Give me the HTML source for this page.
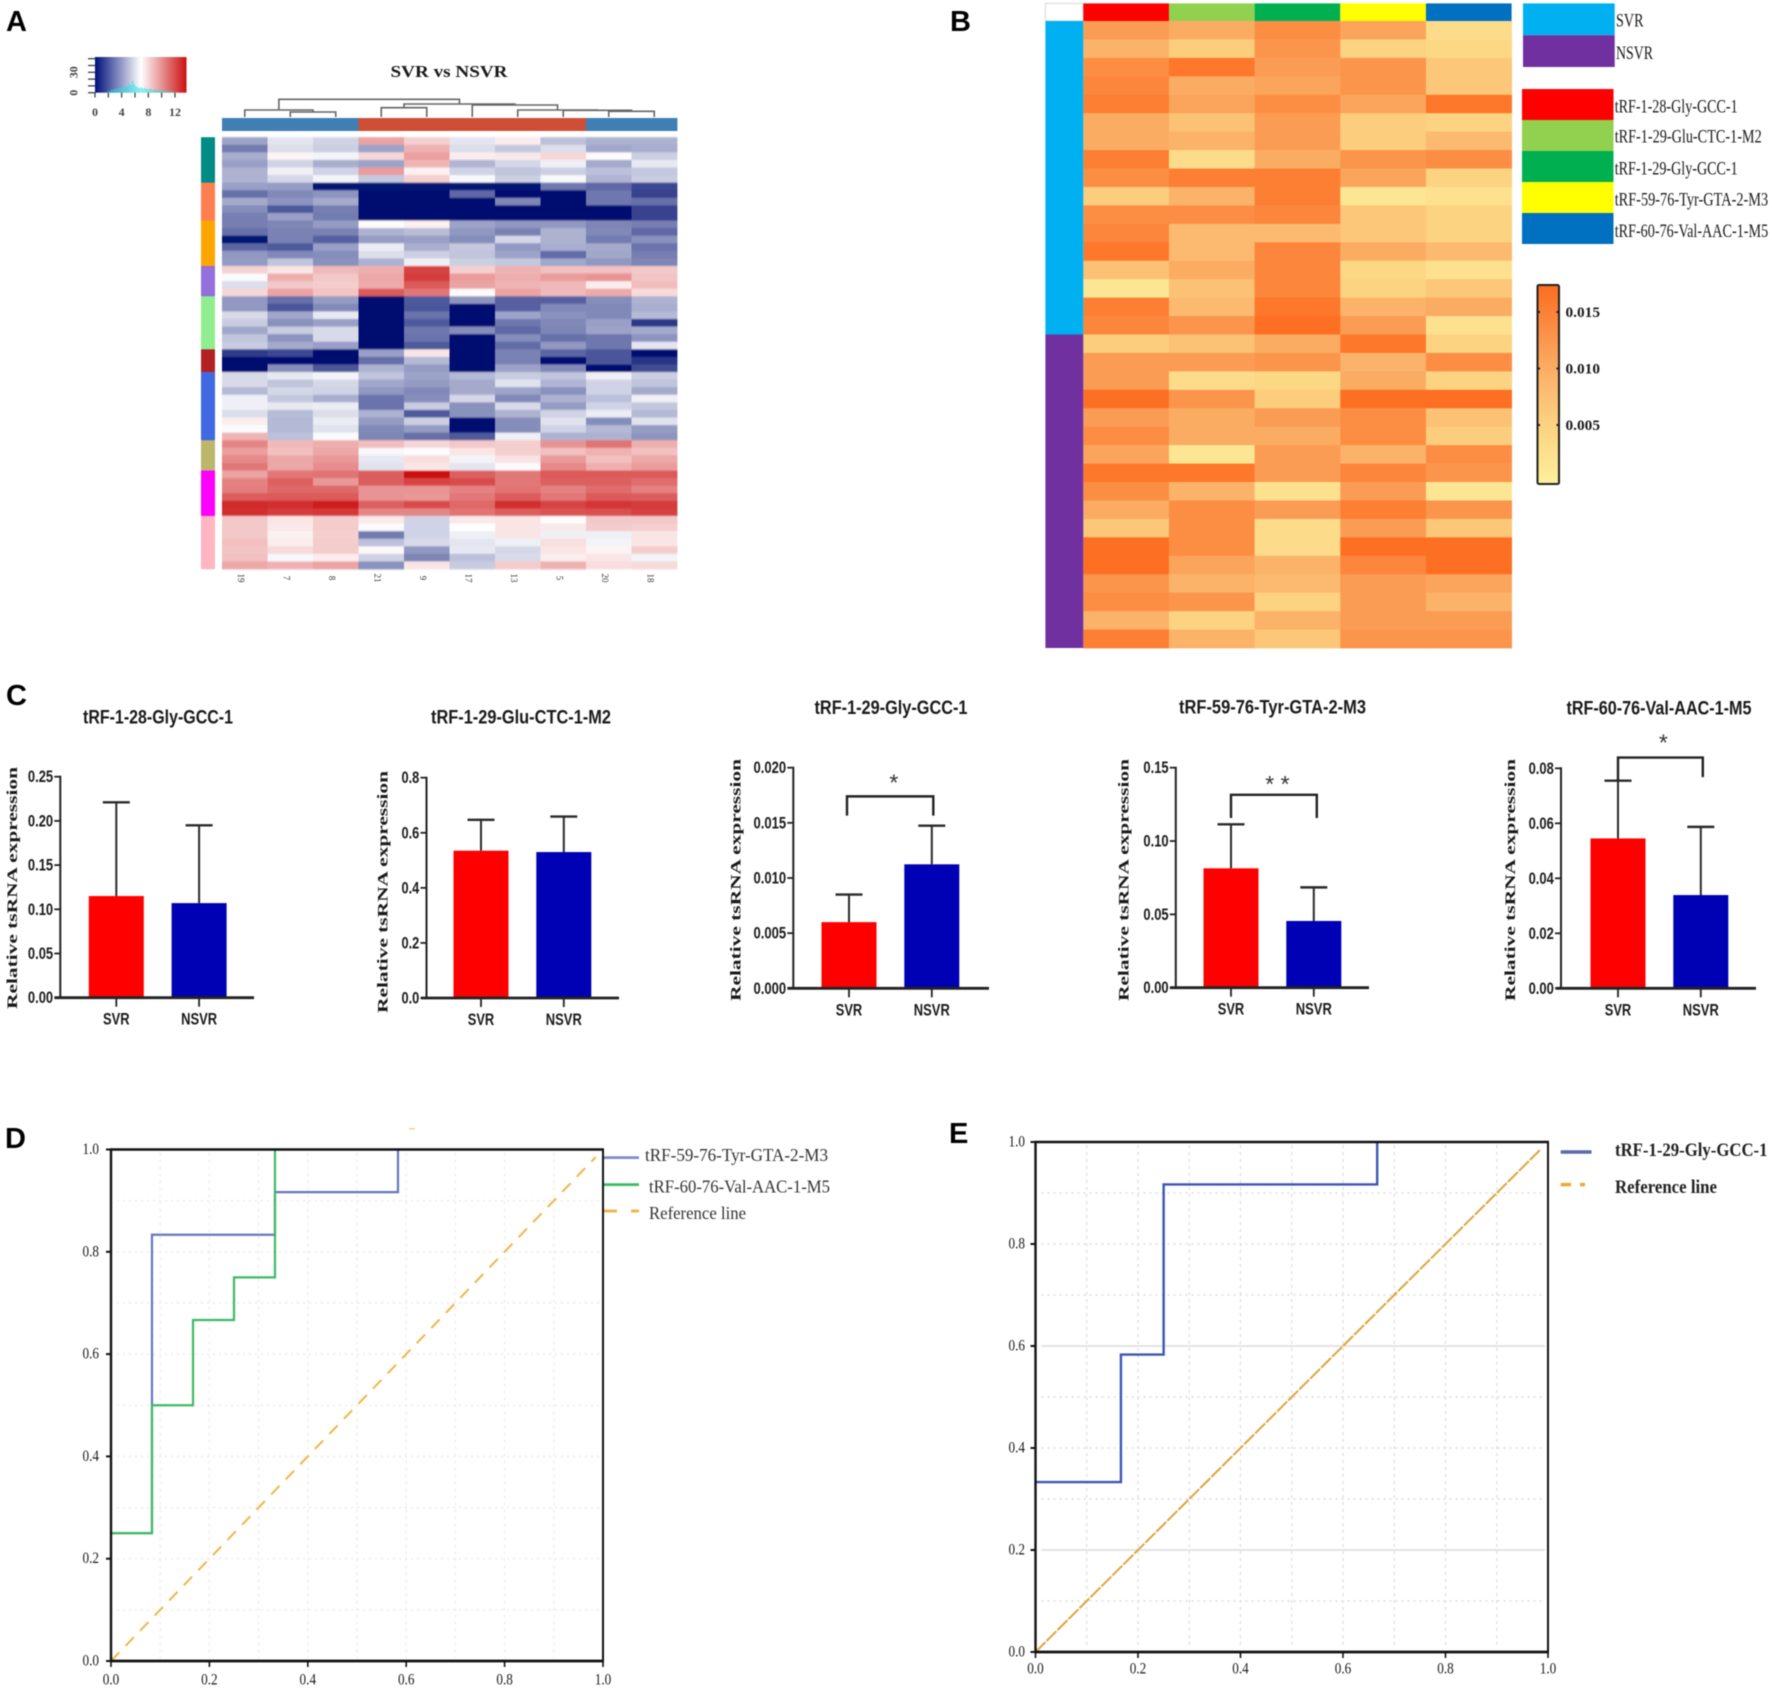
<!DOCTYPE html>
<html lang="en">
<head>
<meta charset="utf-8">
<title>tsRNA expression figure</title>
<style>
html,body{margin:0;padding:0;background:#fff;}
#figure{position:absolute;left:0;top:0;display:block;filter:blur(0.45px);}
text{fill:#1a1a1a;}
.sans{font-family:"Liberation Sans",sans-serif;}
.serif{font-family:"Liberation Serif",serif;}
</style>
</head>
<body>
<svg id="figure" xmlns="http://www.w3.org/2000/svg" width="1772" height="1690" viewBox="0 0 1772 1690">
  <defs>
    <linearGradient id="keyGradientA" x1="0" x2="1" y1="0" y2="0">
      <stop offset="0" stop-color="#00107a"/><stop offset="0.5" stop-color="#ffffff"/><stop offset="1" stop-color="#cc1010"/>
    </linearGradient>
    <linearGradient id="keyGradientB" x1="0" x2="0" y1="1" y2="0">
      <stop offset="0" stop-color="#fdf09c"/><stop offset="0.3" stop-color="#fcd280"/><stop offset="0.5" stop-color="#fbb96f"/><stop offset="0.7" stop-color="#fb9a52"/><stop offset="1" stop-color="#fd6d1f"/>
    </linearGradient>
    <filter id="softCells" x="-2%" y="-2%" width="104%" height="104%">
      <feGaussianBlur stdDeviation="0.3 0.9"/>
    </filter>
  </defs>
  <rect width="1772" height="1690" fill="#fff"/>

  <text class="sans" x="6" y="31" font-size="29" font-weight="700" style="fill:#000">A</text>
  <text class="sans" x="950" y="31" font-size="29" font-weight="700" style="fill:#000">B</text>
  <text class="sans" x="6" y="705" font-size="29" font-weight="700" style="fill:#000">C</text>
  <text class="sans" x="5" y="1148" font-size="29" font-weight="700" style="fill:#000">D</text>
  <text class="sans" x="949" y="1143" font-size="29" font-weight="700" style="fill:#000">E</text>

  <g id="panelA">
    <text class="serif" x="449" y="77" font-size="17" font-weight="700" text-anchor="middle" textLength="117" lengthAdjust="spacingAndGlyphs">SVR vs NSVR</text>
    <rect x="95" y="57" width="91.5" height="35.7" fill="url(#keyGradientA)"/>
  </g>
  <g id="panelB">
    <rect x="1045.4" y="3.4" width="37.9" height="17.6" fill="#fff" stroke="#d8d8d8" stroke-width="1"/>
    <rect x="1537.5" y="285" width="21.5" height="199" rx="1.5" fill="url(#keyGradientB)" stroke="#222" stroke-width="2"/>
  </g>
  <g id="panelC"></g>
  <g id="panelD">
    <rect x="409" y="1128" width="6" height="1.5" fill="#f5d27a"/>
  </g>
  <g id="panelE"></g>
</svg>

<script>
/* ---------- Panel A data ---------- */
const heatmapAColumns = ['19','7','8','21','9','17','13','5','20','18'];
const heatmapAColumnGroups = [0,0,0,1,1,1,1,1,0,0];
const heatmapARowGroupSizes = [6,5,6,4,7,3,9,4,6,7];
const heatmapAValues = [
[4.0,5.8,5.3,9.0,7.8,5.8,7.0,4.8,4.4,4.4],
[2.9,5.6,5.2,4.0,8.6,5.6,5.0,5.6,4.1,4.3],
[4.3,6.8,6.2,7.6,9.1,7.0,7.1,7.6,6.6,5.2],
[3.9,5.3,4.3,4.0,8.5,4.5,5.4,6.1,4.2,5.9],
[4.4,6.1,5.3,9.2,6.9,5.3,4.9,5.2,4.8,5.0],
[4.4,5.4,6.2,5.0,7.8,6.3,5.2,6.3,4.5,5.1],
[3.9,3.8,0.1,0.1,0.1,0.1,0.1,2.8,2.4,1.5],
[2.6,3.3,3.6,0,0,2.4,0,0,2.8,1.4],
[4.2,3.6,4.2,0,0,0,3.2,0,2.8,2.6],
[3.4,2.0,3.0,0,0,0,0,0,0,1.4],
[3.0,3.9,2.9,0,0,0,0,0,0,1.4],
[3.0,3.2,3.8,6.6,6.9,4.0,3.7,3.7,3.2,3.0],
[2.6,3.1,3.1,4.4,4.7,3.7,3.1,4.4,3.3,2.4],
[0.1,3.1,2.2,3.8,3.9,3.4,5.4,4.4,2.9,3.5],
[2.3,2.0,3.9,6.0,4.3,5.0,3.7,4.3,4.2,2.7],
[3.7,3.3,3.4,5.6,5.2,4.9,4.0,2.5,4.1,3.0],
[3.8,4.9,3.5,4.4,6.1,5.2,5.0,4.1,3.7,3.2],
[7.7,7.2,8.4,8.7,11.6,7.8,8.6,8.2,8.2,8.0],
[6.4,8.7,8.0,8.9,11.8,9.2,8.7,9.2,9.4,8.1],
[5.6,8.0,7.9,8.8,11.0,9.0,8.5,8.4,7.0,8.3],
[7.6,9.0,8.1,11.0,10.2,6.6,9.0,8.4,8.8,7.5],
[3.7,2.6,3.8,0,2.0,3.6,2.2,2.2,3.4,4.4],
[3.7,1.9,3.3,0,1.9,0,2.2,3.3,3.3,4.3],
[5.5,4.1,5.9,0,2.7,0,4.0,3.5,3.3,4.6],
[5.1,3.5,3.9,0,2.0,0,2.8,3.3,3.9,1.1],
[4.1,5.1,5.5,0,2.8,3.4,2.4,3.2,4.0,4.2],
[4.9,3.6,5.5,0,2.7,0,3.4,2.6,2.8,3.6],
[5.1,4.2,3.9,0,2.0,0,2.5,3.7,2.8,5.8],
[1.2,1.5,0,3.9,7.2,0,3.1,2.3,1.9,0],
[0,0,0,2.6,4.6,0,3.1,0,1.9,1.0],
[0,3.4,1.9,4.4,3.8,0,4.0,3.3,0,1.6],
[5.5,5.9,6.2,4.9,4.0,4.6,5.1,4.9,6.1,5.2],
[5.5,4.9,5.4,4.1,3.8,4.2,5.7,4.5,5.3,4.9],
[4.6,5.4,5.3,3.7,3.3,4.2,4.0,3.5,5.3,4.2],
[6.1,5.0,4.3,2.7,3.4,5.4,3.3,4.4,4.8,6.1],
[6.1,5.9,6.0,2.7,5.1,3.5,5.5,3.8,5.3,5.0],
[5.6,4.7,5.6,4.4,2.0,3.5,4.4,5.3,6.0,4.6],
[7.0,4.6,6.0,3.8,5.2,0,3.4,5.7,3.4,5.7],
[6.4,4.6,5.7,3.3,3.8,0,3.4,5.3,4.6,3.8],
[8.5,4.8,6.4,3.2,2.6,2.0,6.1,4.4,4.4,3.6],
[9.8,8.4,8.7,8.3,7.6,8.0,7.8,9.4,10.3,8.7],
[9.1,8.2,8.9,6.3,6.4,7.2,7.8,8.2,8.6,8.2],
[9.7,8.9,9.3,5.9,7.4,6.2,7.3,9.2,8.2,8.9],
[10.2,8.9,9.6,5.7,7.2,5.8,6.4,9.7,8.7,9.2],
[9.0,10.2,10.3,10.9,13,10.8,10.2,11,11,11],
[9.9,10.8,9.3,10.9,11.6,11.4,10.2,10.8,10.8,10.5],
[10,10.6,10.6,9.4,9.4,9.9,10.3,9.9,10.5,9.9],
[10.9,11,11,9.4,9.3,10.2,10.9,10.2,11,10.9],
[12.3,12.2,12.6,10.8,11.4,10.6,12.2,11.6,12,11.8],
[12.2,11.8,11.9,9.8,9.8,10.3,10.9,11.2,11.3,11.7],
[8,7.2,7.9,7.1,5.3,7.1,7.2,6.6,8,8],
[8,7.1,7.9,6.4,5.3,6.5,7.2,7.1,7.9,7.8],
[8,6.9,7.8,2.9,5.3,6.1,7.2,6.1,6.1,7.2],
[8.2,7,7.9,4.8,5.5,5.8,6.1,7.4,6.2,7.2],
[8.1,7.5,7.9,6.7,3.7,5.9,5.4,7.2,6.8,7.9],
[8.2,6.3,7,5.3,3.2,4.8,5.5,7,7.2,6.2],
[8.9,8.6,9,3.5,7.2,5.1,7.9,8.6,7.4,7.5]
];
const dendrogramTree = {h:17.7,
  l:{h:7,l:0,r:{h:5,l:1,r:2}},
  r:{h:13,l:{h:9.3,l:3,r:4},r:{h:12,l:5,r:{h:7,l:6,r:{h:6.7,l:7,r:{h:5.7,l:8,r:9}}}}}};
const colorKeyTickValues = [0,2,4,6,8,10,12];
const colorKeyTickLabels = ['0','4','8','12'];
const colorKeyHistogram = [3,2,5,4,6,5,7,6,8,7,10,9,14,11,17,12,9,8,7,8,6,7,6,5,6,5,4,5,4,4,3,4,3,3,2,3,2,2,1,1];

/* ---------- Panel B data (cells in units of heatmapBUnit) ---------- */
const heatmapBUnit = 0.0017;
const heatmapBValues = [
[7,6,8,6.5,2],[5.5,3.5,7.5,3,2.5],[8,9.5,7,7.5,4],[8.5,6,6.5,7.5,4],[9,6.5,8,6.5,9.5],
[6,4.5,7,3.5,3],[6,5.5,7,3.5,5],[9,2,6,7.5,8],[8,9,9,6.5,3],[3.5,5.5,9,1,1.5],
[8,8,8.5,4,3],[8.5,5,5,4,3],[9.5,5,8.5,6,5],[4.5,6,8.5,2.5,1.5],[1,4.5,8.5,3,4],
[9,5,9.5,5.5,6],[8.5,7.5,10,7,1.5],
[3.5,4.5,6,9.5,3],[7,7,7.5,5.5,8],[7,2,2.5,6,3],[10,7.5,3.5,10,10],[7,6,7,8,4.5],
[8,6,6,8,3.5],[6.5,1,7,5.5,8],[9.5,9.5,7,8.5,7.5],[8,5.5,1.5,7,1],[6,8,7,9,7.5],
[4,8,2,7,4],[10,8,2,10,10],[10,6.5,5.5,8.5,10],[7.5,5.5,5,7,6.5],[8,7.5,3,7,5.5],
[5.5,3,5.5,7,7],[9,5.5,4,7.5,7.5]
];
const heatmapBRowGroups = [17,17];
const heatmapBGroupNames = ['SVR','NSVR'];
const heatmapBGenes = ['tRF-1-28-Gly-GCC-1','tRF-1-29-Glu-CTC-1-M2','tRF-1-29-Gly-GCC-1','tRF-59-76-Tyr-GTA-2-M3','tRF-60-76-Val-AAC-1-M5'];
const colorBarBTicks = [0.005,0.010,0.015];
const colorBarBTickLabels = ['0.005','0.010','0.015'];

/* ---------- Panel C data ---------- */
const barTitles = ['tRF-1-28-Gly-GCC-1','tRF-1-29-Glu-CTC-1-M2','tRF-1-29-Gly-GCC-1','tRF-59-76-Tyr-GTA-2-M3','tRF-60-76-Val-AAC-1-M5'];
const barCategories = ['SVR','NSVR'];
const svrMeans = [0.115,0.535,0.0060,0.0814,0.0545];
const svrErrorTops = [0.221,0.647,0.0085,0.1114,0.0755];
const nsvrMeans = [0.107,0.530,0.01124,0.0455,0.0339];
const nsvrErrorTops = [0.195,0.659,0.01474,0.0684,0.0587];
const barYMax = [0.25,0.8,0.020,0.15,0.08];
const barYTicks = [[0,0.05,0.10,0.15,0.20,0.25],[0,0.2,0.4,0.6,0.8],[0,0.005,0.010,0.015,0.020],[0,0.05,0.10,0.15],[0,0.02,0.04,0.06,0.08]];
const barYTickLabels = [['0.00','0.05','0.10','0.15','0.20','0.25'],['0.0','0.2','0.4','0.6','0.8'],['0.000','0.005','0.010','0.015','0.020'],['0.00','0.05','0.10','0.15'],['0.00','0.02','0.04','0.06','0.08']];
const bracketLevels = [null,null,0.0174,0.1315,0.0839];
const bracketLeftDrops = [null,null,0.01565,0.1157,0.0757];
const bracketRightDrops = [null,null,0.01565,0.1157,0.0768];
const bracketLabels = ['','','*','* *','*'];
const barYAxisTitle = 'Relative tsRNA expression';

/* ---------- Panels D / E data ---------- */
const rocDBlueFpr = [0,0.0833,0.0833,0.3333,0.3333,0.5833,0.5833];
const rocDBlueTpr = [0.25,0.25,0.8333,0.8333,0.9167,0.9167,1];
const rocDGreenFpr = [0,0.0833,0.0833,0.1667,0.1667,0.25,0.25,0.3333,0.3333];
const rocDGreenTpr = [0.25,0.25,0.5,0.5,0.6667,0.6667,0.75,0.75,1];
const rocEBlueFpr = [0,0.1667,0.1667,0.25,0.25,0.6667,0.6667];
const rocEBlueTpr = [0.3333,0.3333,0.5833,0.5833,0.9167,0.9167,1];
const referenceLine = [0,0.985];
const rocTicks = [0,0.2,0.4,0.6,0.8,1];
const rocTickLabels = ['0.0','0.2','0.4','0.6','0.8','1.0'];
const rocGridValues = [0.1,0.2,0.3,0.4,0.5,0.6,0.7,0.8,0.9];
const rocDLegend = ['tRF-59-76-Tyr-GTA-2-M3','tRF-60-76-Val-AAC-1-M5','Reference line'];
const rocELegend = ['tRF-1-29-Gly-GCC-1','Reference line'];

/* ---------- helpers ---------- */
const NS = 'http://www.w3.org/2000/svg';
function node(tag, parent, attrs) {
  const el = document.createElementNS(NS, tag);
  for (const k in attrs) el.setAttribute(k, attrs[k]);
  parent.appendChild(el);
  return el;
}
function rect(parent, x, y, w, h, fill) {
  return node('rect', parent, {x:x, y:y, width:w, height:h, fill:fill});
}
function seg(parent, x1, y1, x2, y2, stroke, w, dash) {
  const a = {x1:x1, y1:y1, x2:x2, y2:y2, stroke:stroke, 'stroke-width':w};
  if (dash) a['stroke-dasharray'] = dash;
  return node('line', parent, a);
}
function label(parent, str, x, y, o) {
  const a = {x:x, y:y, 'font-size':o.size, 'font-family':o.family || '"Liberation Serif", serif', 'dominant-baseline':'central', 'text-anchor':o.anchor || 'start'};
  if (o.weight) a['font-weight'] = o.weight;
  if (o.width) { a.textLength = o.width; a.lengthAdjust = 'spacingAndGlyphs'; }
  if (o.rotate !== undefined) a.transform = 'rotate(' + o.rotate + ' ' + x + ' ' + y + ')';
  const el = node('text', parent, a);
  if (o.fill) el.style.fill = o.fill;
  el.textContent = str;
  return el;
}
function mix(a, b, t) {
  return 'rgb(' + a.map((c, i) => Math.round(c + (b[i] - c) * t)).join(',') + ')';
}
const SANS = '"Liberation Sans", sans-serif';

/* ---------- Panel A ---------- */
(function () {
  const g = document.getElementById('panelA');
  const left = 222, right = 677, top = 137.2, bottom = 569;
  const colW = (right - left) / heatmapAColumns.length;
  const rowH = (bottom - top) / heatmapAValues.length;
  const colX = i => left + i * colW;
  const rowY = i => top + i * rowH;
  const NAVY = [0,16,112], WHITE = [255,255,255], RED = [204,16,16];
  const cellColor = v => v <= 6.5 ? mix(NAVY, WHITE, v / 6.5) : mix(WHITE, RED, Math.min(1, (v - 6.5) / 6.5));

  const cells = node('g', g, {filter:'url(#softCells)'});
  
  
  heatmapAValues.forEach((row, r) => row.forEach((v, c) => {
    const cell = rect(cells, colX(c), rowY(r), colW + 0.4, rowH + 0.4, cellColor(v));
    
    
  }));

  const rowGroupColors = ['#008b85','#ff7f50','#ffa500','#9370db','#90ee90','#b22222','#4169e1','#bdb76b','#ff00ff','#ffb6c1'];
  let start = 0;
  heatmapARowGroupSizes.forEach((n, i) => {
    const bar = rect(g, 201, rowY(start), 14, n * rowH + 0.3, rowGroupColors[i]);
    
    
    start += n;
  });

  const colGroupColors = ['#3f7fb3','#cd4f35'];
  heatmapAColumnGroups.forEach((grp, c) => {
    const bar = rect(g, colX(c), 118, colW + 0.4, 13, colGroupColors[grp]);
    
    
  });

  heatmapAColumns.forEach((name, c) => {
    const t = label(g, name, colX(c) + colW / 2 - 4, 578, {size:9, anchor:'middle', rotate:90, fill:'#333'});
    
    
  });

  /* dendrogram */
  const dendroY = h => 117 - h;
  const leafX = i => colX(i) + colW / 2;
  function drawTree(t) {
    if (typeof t === 'number') return {x: leafX(t), y: 117};
    const a = drawTree(t.l), b = drawTree(t.r), y = dendroY(t.h);
    const p = node('path', g, {d:'M' + a.x + ' ' + a.y + 'V' + y + 'H' + b.x + 'V' + b.y, fill:'none', stroke:'#666', 'stroke-width':1.6});
    
    
    return {x: (a.x + b.x) / 2, y: y};
  }
  drawTree(dendrogramTree);

  /* colour key */
  const keyX = v => 95 + v * (80 / 12);
  const keyY = v => 92.7 - v * 0.68;
  colorKeyTickValues.forEach(v => {
    const t = seg(g, keyX(v), 92.7, keyX(v), 97.5, '#333', 1.2);
    
    
  });
  colorKeyTickLabels.forEach(s => {
    const t = label(g, s, keyX(+s), 112, {size:12, anchor:'middle', weight:700, fill:'#444'});
    
    
  });
  [0,10,20,30,40,50].forEach(v => {
    const t = seg(g, 88, keyY(v), 95, keyY(v), '#333', 1.2);
    
    
  });
  ['0','30'].forEach(s => {
    const t = label(g, s, 73.5, keyY(+s), {size:12, anchor:'middle', rotate:-90, weight:700, fill:'#444'});
    
    
  });
  const binStart = 2, binStep = 0.26;
  colorKeyHistogram.forEach((v, i) => {
    const b = seg(g, keyX(binStart + i * binStep), 92.7, keyX(binStart + i * binStep), keyY(v), '#19e6e6', 0.9);
    
    
  });
})();

/* ---------- Panel B ---------- */
(function () {
  const g = document.getElementById('panelB');
  const left = 1083.3, right = 1511.6, top = 21, bottom = 648;
  const colW = (right - left) / heatmapBGenes.length;
  const rowH = (bottom - top) / heatmapBValues.length;
  const colX = i => left + i * colW;
  const rowY = i => top + i * rowH;
  const stops = [[0,[253,240,156]],[0.3,[252,210,128]],[0.5,[251,185,111]],[0.7,[251,154,82]],[1,[253,109,31]]];
  const DOMAIN = 0.0174;
  function color(v) {
    const t = Math.max(0, Math.min(1, v / DOMAIN));
    for (let i = 1; i < stops.length; i++) {
      if (t <= stops[i][0]) return mix(stops[i-1][1], stops[i][1], (t - stops[i-1][0]) / (stops[i][0] - stops[i-1][0]));
    }
    return mix(stops[4][1], stops[4][1], 0);
  }
  heatmapBValues.forEach((row, r) => row.forEach((v, c) => {
    const cell = rect(g, colX(c), rowY(r), colW + 0.4, rowH + 0.4, color(v * heatmapBUnit));
    
    
  }));

  const geneColors = ['#ff0000','#92d050','#00b050','#ffff00','#0070c0'];
  const groupColors = ['#00b0f0','#7030a0'];

  geneColors.forEach((col, i) => {
    const top1 = rect(g, colX(i), 3.4, colW, 17.6, col);
    
    
  });
  let start = 0;
  heatmapBRowGroups.forEach((n, i) => {
    const bar = rect(g, 1045.4, rowY(start), 37.9, n * rowH, groupColors[i]);
    
    
    start += n;
  });

  /* group legend */
  const groupLabelW = [27.5, 37];
  heatmapBGroupNames.forEach((s, i) => {
    const sw = rect(g, 1523, 3.4 + i * 31.8, 91.7, 31.8, groupColors[i]);
    
    
    const t = label(g, s, 1616, 21 + i * 32.5, {size:19, width:groupLabelW[i]});
    
    
  });

  /* gene legend */
  const geneLabelW = [123,147,123,153.5,153.5];
  const geneLabelY = [107,137,169,200,231.5];
  heatmapBGenes.forEach((s, i) => {
    const sw = rect(g, 1522, 89 + i * 31, 91.5, 31, geneColors[i]);
    
    
    const t = label(g, s, 1614.7, geneLabelY[i], {size:19, width:geneLabelW[i]});
    
    
  });

  /* colour bar ticks */
  const barY = v => 481.5 - v * (56.5 / 0.005);
  colorBarBTicks.forEach((v, i) => {
    const a = seg(g, 1537.5, barY(v), 1540, barY(v), '#222', 2);
    
    
    const b = seg(g, 1556.5, barY(v), 1559, barY(v), '#222', 2);
    
    
    const t = label(g, colorBarBTickLabels[i], 1565.5, barY(v) + 1, {size:15, weight:700, width:34.5});
    
    
  });
})();

/* ---------- Panel C ---------- */
(function () {
  const g = document.getElementById('panelC');
  const layouts = [
    {axisX:60.3, base:997.7, top:776.7, left:54.5, right:254, titleX:158, titleY:718, titleW:150, ytX:13, ytY:888, off:56, brL:0, brR:0},
    {axisX:426.5, base:998, top:777.7, left:421, right:619, titleX:521, titleY:718, titleW:180, ytX:383.5, ytY:892, off:54.5, brL:0, brR:0},
    {axisX:793.3, base:988.3, top:767.7, left:787.6, right:989, titleX:891, titleY:708.5, titleW:153, ytX:736.5, ytY:880, off:55.7, brL:-2, brR:1.5},
    {axisX:1175.8, base:987.7, top:767.7, left:1170, right:1369, titleX:1272.5, titleY:708, titleW:187, ytX:1124.6, ytY:880, off:55.2, brL:0, brR:3},
    {axisX:1561, base:988.3, top:768.3, left:1556, right:1756, titleX:1659, titleY:709, titleW:185, ytX:1511, ytY:880, off:57, brL:0, brR:2}
  ];
  const BAR_W = 55, STEP = 82.8, INK = '#222';
  const barColors = ['#ff0000','#0000b4'];
  const textW = s => s.replace('.', '').length * 7.4 + 3;
  const starDy = [0,0,-14,-11,-15];

  layouts.forEach((L, p) => {
    const y = v => L.base - (v / barYMax[p]) * (L.base - L.top);
    const x = i => L.axisX + L.off + i * STEP;

    const title = label(g, barTitles[p], L.titleX, L.titleY, {size:19, weight:700, family:SANS, anchor:'middle', width:L.titleW});
    
    

    const yt = label(g, barYAxisTitle, L.ytX, L.ytY, {size:15, weight:700, anchor:'middle', rotate:-90, width:242});
    
    

    const means = [svrMeans[p], nsvrMeans[p]];
    const errs = [svrErrorTops[p], nsvrErrorTops[p]];
    means.forEach((m, i) => {
      const bar = rect(g, x(i) - BAR_W / 2, y(m), BAR_W, L.base - y(m), barColors[i]);
      
      
      const stem = seg(g, x(i), y(m), x(i), y(errs[i]), '#2a2a2a', 2);
      
      
      const cap = seg(g, x(i) - 13.5, y(errs[i]), x(i) + 13.5, y(errs[i]), '#2a2a2a', 2.4);
      
      
      const tick = seg(g, x(i), L.base, x(i), L.base + 9, INK, 1.8);
      
      
      const cat = label(g, barCategories[i], x(i), L.base + 21.5, {size:17, weight:700, family:SANS, anchor:'middle', width:i === 0 ? 26.5 : 36});
      
      
    });

    const yAxis = seg(g, L.axisX, L.top - 1, L.axisX, L.base, INK, 2);
    
    
    const xAxis = seg(g, L.left, L.base, L.right, L.base, INK, 2.8);
    
    

    barYTicks[p].forEach((v, i) => {
      const tick = seg(g, L.axisX - 6, y(v), L.axisX, y(v), INK, 1.8);
      
      
      const s = barYTickLabels[p][i];
      const t = label(g, s, L.axisX - 7.2, y(v), {size:17, weight:700, family:SANS, anchor:'end', width:textW(s)});
      
      
    });

    if (bracketLevels[p] !== null) {
      const d = 'M' + (x(0) + L.brL) + ' ' + y(bracketLeftDrops[p]) + 'V' + y(bracketLevels[p]) + 'H' + (x(1) + L.brR) + 'V' + y(bracketRightDrops[p]);
      const br = node('path', g, {d:d, fill:'none', stroke:'#222', 'stroke-width':2.4});
      
      
      const star = label(g, bracketLabels[p], (x(0) + x(1)) / 2 + 2 + L.brR, y(bracketLevels[p]) + starDy[p], {size:23, family:SANS, anchor:'middle', fill:'#333'});
      
      
    }
  });
})();

/* ---------- Panels D and E ---------- */
function drawRocFrame(g, L) {
  const xS = v => L.x0 + v * (L.x1 - L.x0);
  const yS = v => L.y0 - v * (L.y0 - L.y1);
  rocGridValues.forEach((v, i) => {
    const solid = L.solidMajor && (i === 1 || i === 5);
    const h = seg(g, L.x0 + 6, yS(v), L.x1 - 3, yS(v), L.grid, 1.6, solid ? '' : '2 4');
    
    
    const w = seg(g, xS(v), L.y1 + 3, xS(v), L.y0 - 3, L.grid, 1.2, '3 4');
    
    
  });
  const ref = seg(g, xS(referenceLine[0]), yS(referenceLine[0]), xS(referenceLine[1]), yS(referenceLine[1]), L.refColor, 2, L.refDash);
  
  
  return {xS, yS};
}
function drawRocBorder(g, L, xS, yS) {
  const top = seg(g, L.x0 - 1, L.y1, L.x1 + 1, L.y1, '#111', 2.4);
  
  
  const bottom = seg(g, L.x0 - 1, L.y0, L.x1 + 1, L.y0, '#111', 2.8);
  
  
  const lft = seg(g, L.x0, L.y1, L.x0, L.y0, '#111', 2.4);
  
  
  const rgt = seg(g, L.x1, L.y1, L.x1, L.y0, '#111', 2);
  
  
  rocTicks.forEach((v, i) => {
    const xt = seg(g, xS(v), L.y0, xS(v), L.y0 + 6, '#111', 1.6);
    
    
    const yt = seg(g, L.x0 - 5, yS(v), L.x0, yS(v), '#111', 2);
    
    
    const xl = label(g, rocTickLabels[i], xS(v), L.xLabelY, {size:15.5, anchor:'middle', width:16.5});
    
    
    const yl = label(g, rocTickLabels[i], L.yLabelX, yS(v), {size:15.5, anchor:'end', width:16.5});
    
    
  });
}
function rocPoints(fpr, tpr, xS, yS) {
  return fpr.map((v, i) => xS(v) + ',' + yS(tpr[i])).join(' ');
}

(function () {
  const g = document.getElementById('panelD');
  const L = {x0:111, x1:603, y0:1661, y1:1149.5, grid:'#ececec', solidMajor:false, refColor:'#efb648', refDash:'12 9', xLabelY:1680, yLabelX:99};
  const {xS, yS} = drawRocFrame(g, L);
  const blue = node('polyline', g, {points:rocPoints(rocDBlueFpr, rocDBlueTpr, xS, yS), fill:'none', stroke:'#6577bd', 'stroke-width':2.2});
  
  
  const green = node('polyline', g, {points:rocPoints(rocDGreenFpr, rocDGreenTpr, xS, yS), fill:'none', stroke:'#3dbb63', 'stroke-width':2.2});
  
  
  drawRocBorder(g, L, xS, yS);

  const lb = seg(g, 604, 1157.6, 639, 1157.6, '#7f8cc4', 2.8);
  
  
  const lg = seg(g, 604, 1184.6, 639, 1184.6, '#3dbb63', 2.8);
  
  
  const lr1 = seg(g, 604, 1211, 617, 1211, '#f5b041', 2.8);
  
  
  const lr2 = seg(g, 631, 1211, 639, 1211, '#f5b041', 2.8);
  
  
  const lgX = [645,649,649], lgY = [1155,1186.5,1213], lgW = [183,181,97];
  rocDLegend.forEach((s, i) => {
    const t = label(g, s, lgX[i], lgY[i], {size:18, width:lgW[i], fill:'#333'});
    
    
  });
})();

(function () {
  const g = document.getElementById('panelE');
  const L = {x0:1035.5, x1:1548, y0:1652, y1:1142, grid:'#dcdcdc', solidMajor:true, refColor:'#dca63f', refDash:'14 1.5', xLabelY:1669, yLabelX:1025};
  const {xS, yS} = drawRocFrame(g, L);
  const blue = node('polyline', g, {points:rocPoints(rocEBlueFpr, rocEBlueTpr, xS, yS), fill:'none', stroke:'#3d56b5', 'stroke-width':2.4});
  
  
  drawRocBorder(g, L, xS, yS);

  const lb = seg(g, 1560.7, 1152, 1591.5, 1152, '#5a6aae', 3.4);
  
  
  const lr1 = seg(g, 1560.7, 1184.6, 1571, 1184.6, '#f0a92c', 3.4);
  
  
  const lr2 = seg(g, 1580, 1184.6, 1585, 1184.6, '#f0a92c', 3.4);
  
  
  const lgY = [1151,1188], lgW = [152.5,102];
  rocELegend.forEach((s, i) => {
    const t = label(g, s, 1615, lgY[i], {size:18.5, weight:700, width:lgW[i], fill:'#222'});
    
    
  });
})();
</script>
</body>
</html>
